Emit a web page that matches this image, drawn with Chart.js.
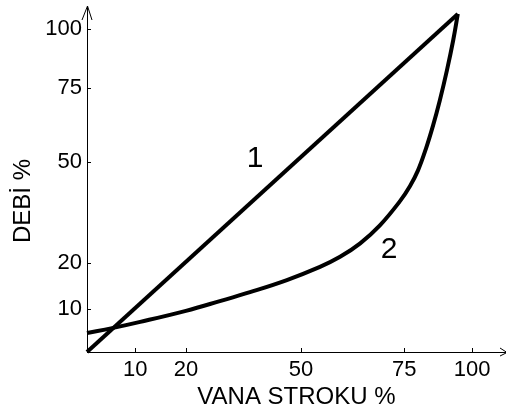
<!DOCTYPE html>
<html>
<head>
<meta charset="utf-8">
<script src="https://cdn.jsdelivr.net/npm/chart.js@4.4.1/dist/chart.umd.min.js"></script>
<style>
  html, body { margin: 0; padding: 0; background: #fff; }
  #wrap { width: 506px; height: 414px; }
</style>
</head>
<body>
<div id="wrap"><canvas id="chart" width="506" height="414"></canvas></div>
<script>
// 坐标轴为示意刻度：位置单位 0-100，标签另给
const xTickLabels = ['10', '20', '50', '75', '100'];
const xTickPos = [11.5, 23.6, 51.1, 75.7, 91.9];
const yTickLabels = ['10', '20', '50', '75', '100'];
const yTickPos = [12.4, 25.7, 54.9, 76.3, 93.4];

// 曲线 1 - 线性
const line1X = [0, 88.5];
const line1Y = [0, 97.7];

// 曲线 2 - 等百分比
const curve2X = [0, 6.0, 12.7, 23.6, 31.7, 38.9, 47.7, 55.6, 60.4, 65.2, 69.9, 74.7, 77.1, 79.0, 80.9, 82.6, 84.2, 85.9, 87.4, 88.5];
const curve2Y = [5.5, 6.9, 8.7, 11.9, 14.7, 17.3, 20.8, 24.6, 27.5, 31.4, 36.6, 43.6, 48.0, 52.5, 58.8, 65.5, 72.7, 81.4, 90.1, 97.7];

// 曲线编号
const curveLabels = ['1', '2'];
const curveLabelX = [40.1, 72.1];
const curveLabelY = [55.8, 29.5];

const FONT = '"Liberation Sans", Arial, sans-serif';

const toPoints = (xs, ys) => xs.map((v, i) => ({ x: v, y: ys[i] }));

/**
 * 轴内侧刻度、箭头、曲线编号、纵轴标题
 */
const axisDecor = {
  id: 'axisDecor',
  afterDraw(chart) {
    const { ctx, chartArea: a, scales: { x, y } } = chart;
    ctx.save();
    ctx.strokeStyle = '#000';
    ctx.lineWidth = 1;
    ctx.beginPath();
    xTickPos.forEach(v => {
      const px = Math.round(x.getPixelForValue(v)) + 0.5;
      ctx.moveTo(px, a.bottom);
      ctx.lineTo(px, a.bottom - 4);
    });
    yTickPos.forEach(v => {
      const py = Math.round(y.getPixelForValue(v)) + 0.5;
      ctx.moveTo(a.left, py);
      ctx.lineTo(a.left + 4, py);
    });
    // 箭头
    ctx.moveTo(a.left - 5, a.top + 14);
    ctx.lineTo(a.left + 0.5, a.top);
    ctx.lineTo(a.left + 5, a.top + 14);
    ctx.moveTo(a.right - 6, a.bottom - 4);
    ctx.lineTo(a.right + 1, a.bottom + 0.5);
    ctx.lineTo(a.right - 6, a.bottom + 4);
    ctx.stroke();

    ctx.fillStyle = '#000';
    ctx.textAlign = 'center';
    ctx.textBaseline = 'middle';
    ctx.font = '30px ' + FONT;
    curveLabels.forEach((t, i) => {
      ctx.fillText(t, x.getPixelForValue(curveLabelX[i]), y.getPixelForValue(curveLabelY[i]));
    });

    ctx.font = '24px ' + FONT;
    ctx.translate(23, 201);
    ctx.rotate(-Math.PI / 2);
    ctx.fillText('DEBİ %', 0, 0);
    ctx.restore();
  }
};

new Chart(document.getElementById('chart'), {
  type: 'scatter',
  data: {
    datasets: [
      {
        label: '1',
        data: toPoints(line1X, line1Y),
        showLine: true,
        borderColor: '#000',
        borderWidth: 4,
        pointRadius: 0,
        clip: 6
      },
      {
        label: '2',
        data: toPoints(curve2X, curve2Y),
        showLine: true,
        borderColor: '#000',
        borderWidth: 4,
        pointRadius: 0,
        tension: 0.4,
        clip: 6
      }
    ]
  },
  options: {
    responsive: false,
    animation: false,
    devicePixelRatio: 1,
    layout: { padding: { top: 6, right: 0, left: 0, bottom: 0 } },
    plugins: {
      legend: { display: false },
      tooltip: { enabled: false }
    },
    elements: { line: { borderJoinStyle: 'miter', borderCapStyle: 'butt' } },
    scales: {
      x: {
        type: 'linear',
        min: 0,
        max: 100,
        afterFit: s => { s.height = 62; s.paddingLeft = 0; s.paddingRight = 0; },
        afterBuildTicks: s => { s.ticks = xTickPos.map(v => ({ value: v })); },
        grid: { display: false, drawTicks: false },
        border: { display: true, color: '#000', width: 1 },
        ticks: {
          autoSkip: false,
          maxRotation: 0,
          padding: 5,
          color: '#000',
          font: { family: FONT, size: 22 },
          callback: (v, i) => xTickLabels[i]
        },
        title: {
          display: true,
          text: 'VANA STROKU %',
          color: '#000',
          font: { family: FONT, size: 24 },
          padding: { top: 0, bottom: 2 }
        }
      },
      y: {
        type: 'linear',
        min: 0,
        max: 100,
        afterFit: s => { s.width = 87; s.paddingTop = 0; s.paddingBottom = 0; },
        afterBuildTicks: s => { s.ticks = yTickPos.map(v => ({ value: v })); },
        grid: { display: false, drawTicks: false },
        border: { display: true, color: '#000', width: 1 },
        ticks: {
          autoSkip: false,
          padding: 5,
          color: '#000',
          font: { family: FONT, size: 22 },
          callback: (v, i) => yTickLabels[i]
        }
      }
    }
  },
  plugins: [axisDecor]
});
</script>
</body>
</html>
